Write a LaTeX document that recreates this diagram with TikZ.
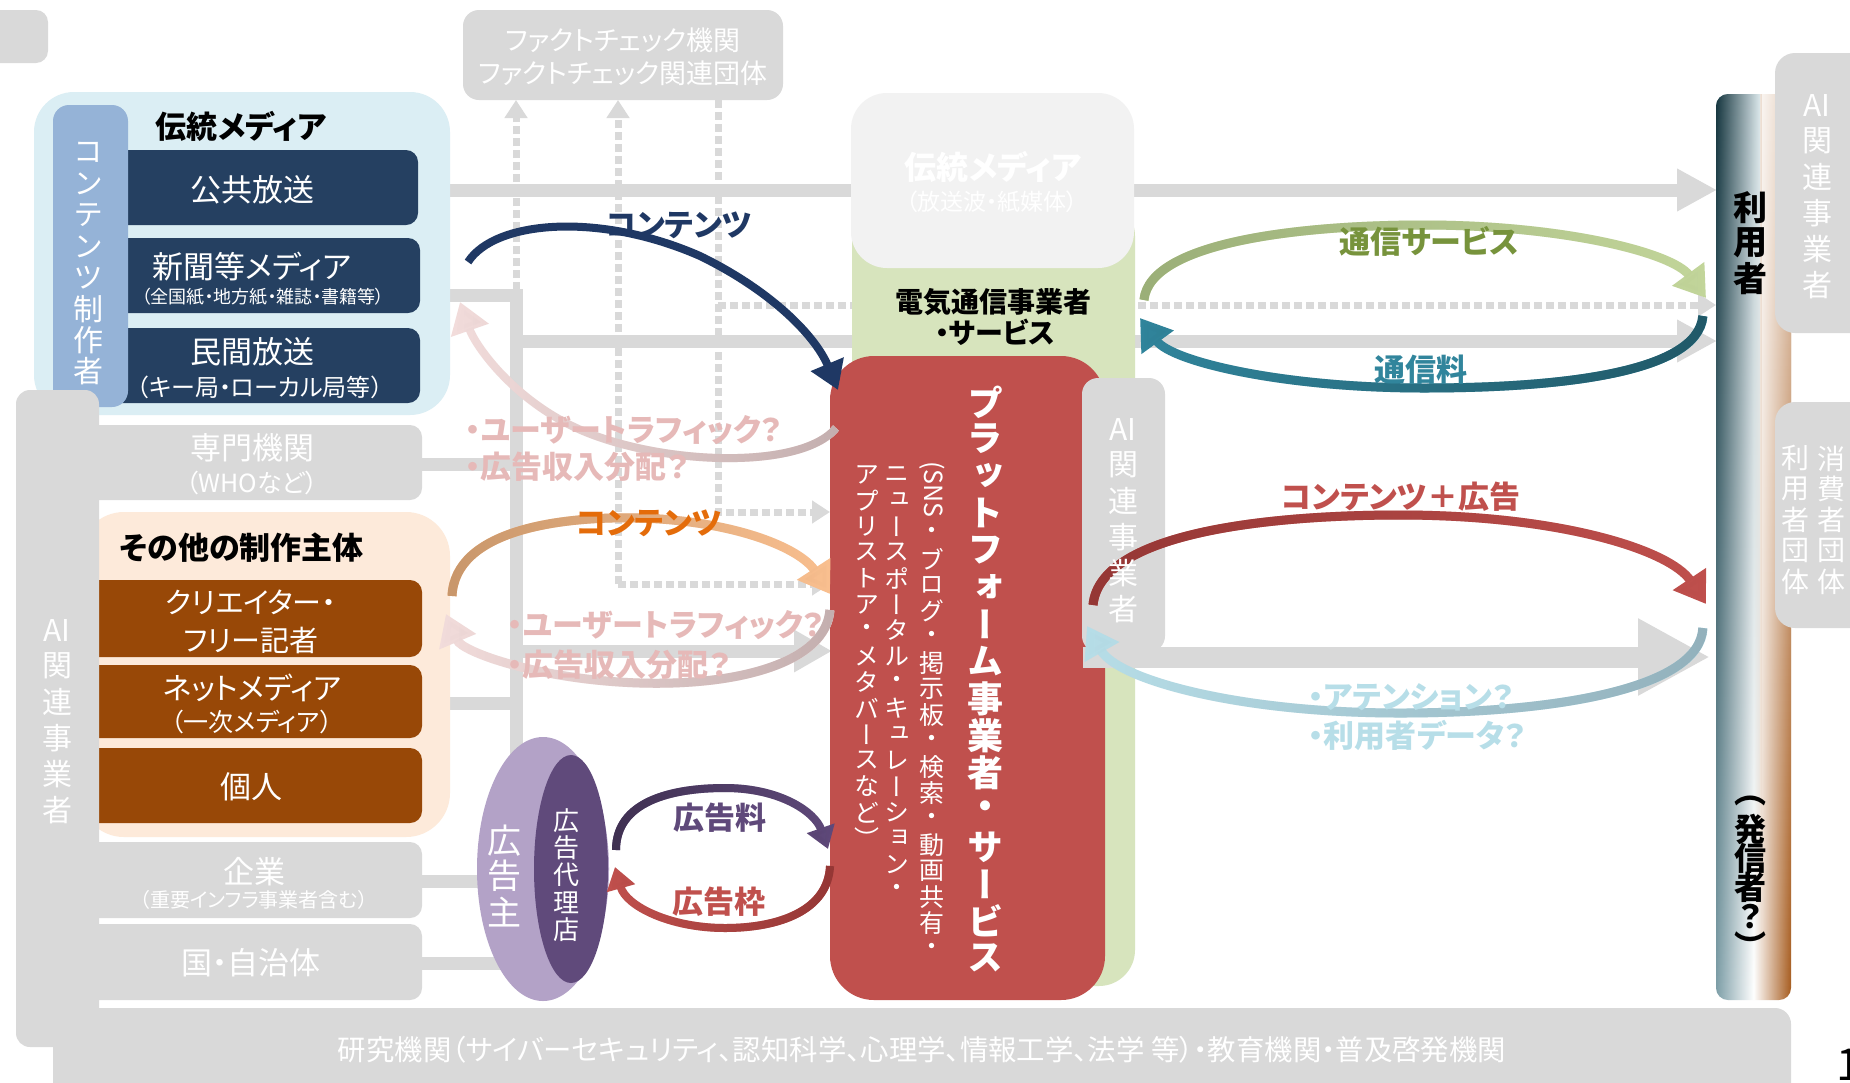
\documentclass[tikz,border=0pt]{standalone}
\usepackage{fontspec}
\usepackage{graphicx}
\usetikzlibrary{arrows.meta,fadings}
\setmainfont{Noto Sans CJK JP}[RawFeature=+palt]
\newfontfamily\jpv{Noto Sans CJK JP}[RawFeature=+vert]

\definecolor{lgray}{HTML}{D9D9D9}
\definecolor{lgrayb}{HTML}{F2F2F2}
\definecolor{bluegrp}{HTML}{DBEEF4}
\definecolor{cbar}{HTML}{95B3D7}
\definecolor{navy}{HTML}{254061}
\definecolor{peach}{HTML}{FDEADA}
\definecolor{brownbox}{HTML}{984807}
\definecolor{telgreen}{HTML}{D7E4BD}
\definecolor{pfred}{HTML}{C0504D}
\definecolor{purL}{HTML}{B3A2C7}
\definecolor{purD}{HTML}{604A7B}
\definecolor{navyA}{HTML}{1F3864}
\definecolor{pinkT}{HTML}{C4AFAF}
\definecolor{pinkH}{HTML}{F2DCDB}
\definecolor{orT}{HTML}{C9976B}
\definecolor{orH}{HTML}{FAC090}
\definecolor{grT}{HTML}{9BAF78}
\definecolor{grH}{HTML}{C3D69B}
\definecolor{tlT}{HTML}{215968}
\definecolor{tlH}{HTML}{31859C}
\definecolor{rdT}{HTML}{953735}
\definecolor{rdH}{HTML}{C0504D}
\definecolor{lbT}{HTML}{93B1BC}
\definecolor{lbH}{HTML}{B7DEE8}
\definecolor{puT}{HTML}{403152}
\definecolor{puH}{HTML}{5F497A}
\definecolor{lblPink}{HTML}{E6B9B8}
\definecolor{lblOr}{HTML}{E46C0A}
\definecolor{lblGr}{HTML}{77933C}
\definecolor{ubL}{HTML}{7FA0A9}
\definecolor{ubR}{HTML}{A65B1E}
\definecolor{ubDark}{HTML}{16363F}
\definecolor{ubMid}{HTML}{DCE8EC}

\newcommand\fs[1]{\fontsize{#1}{#1}\selectfont}

\makeatletter
\def\vt@end{\vt@end}
\def\vtpitch{1.05em}
\newcommand\vc[1]{\vbox to \vtpitch{\vss\hbox to 1em{\hss#1\hss}\vss}}
\def\vt@loop#1{\ifx\vt@end#1\else\vc{#1}\expandafter\vt@loop\fi}
\newcommand\vtbody[1]{\vt@loop#1\vt@end}
\newcommand\vt[2][1.05em]{\vbox{\offinterlineskip\def\vtpitch{#1}\vtbody{#2}}}
\makeatother

\tikzfading[name=fadeR, left color=transparent!0, right color=transparent!100]
\tikzfading[name=fadeL, left color=transparent!100, right color=transparent!0]
\tikzfading[name=fadeTop, top color=transparent!0, bottom color=transparent!100]

\tikzset{
  gline/.style={draw=lgray, line width=6.5pt},
  dline/.style={draw=lgray, line width=3.5pt, dash pattern=on 4pt off 2pt},
  bigtip/.style={-{Triangle[length=20pt,width=20pt]}},
  dtip/.style={-{Triangle[length=9pt,width=11pt]}},
  bigarr/.style={-{Triangle[length=15pt,width=19pt]}},
  smallarr/.style={-{Triangle[length=11pt,width=14pt]}},
  wt/.style={text=white, inner sep=0pt},
  bt/.style={text=black, inner sep=0pt},
  lab/.style={inner sep=0pt, font=\fs{15.5}\bfseries},
}

\newcommand\garrow[6][bigarr]{%
  \draw[#3, line width=#5, #1] #6;
  \draw[#2, line width=#5, #1, path fading=#4] #6;}

\begin{document}
\begin{tikzpicture}[x=0.5pt,y=-0.5pt]
\useasboundingbox (0,0) rectangle (1850,1082);
\fill[white] (0,0) rectangle (1850,1082);

% stub top-left
\fill[lgray, rounded corners=6pt] (-30,10) rectangle (48,63);

% ---------- gray connector lines ----------
\coordinate (trunkTop) at (516,295);
\draw[gline, bigtip] (440,190) -- (1717,190);
\draw[gline, line join=miter] (440,295) -| (516,963) -- (420,963);
\draw[gline, bigtip] (516,341) -- (1717,341);
\draw[gline] (420,464) -- (516,464);
\draw[gline] (440,703) -- (516,703);
\draw[gline] (420,881) -- (516,881);
\draw[gline, -{Triangle[length=19pt,width=20pt]}] (516,651) -- (832,651);

% dotted lines
\draw[dline, dtip] (516,290) -- (516,100);
\draw[dline, dtip] (618,584) -- (618,100);
\draw[dline, dtip] (618,584) -- (830,584);
\draw[dline, dtip] (718,100) |- (830,512);
\draw[dline, dtip] (718,305) -- (1716,305);

% ---------- left groups ----------
\fill[bluegrp, rounded corners=20pt] (34,92) rectangle (450,415);
\fill[navy, rounded corners=6pt] (110,150) rectangle (418,225);
\fill[navy, rounded corners=6pt] (110,238) rectangle (420,313);
\fill[navy, rounded corners=6pt] (110,328) rectangle (420,403);
\fill[cbar, rounded corners=8pt] (53,105) rectangle (128,407);
\node[wt, font=\fs{15}\jpv] (contentsMaker) at (88,262) {\vt[1.04em]{コンテンツ制作者}};

\fill[lgray, rounded corners=6pt] (80,425) rectangle (422,500);
\fill[peach, rounded corners=22pt] (80,512) rectangle (450,837);
\fill[brownbox, rounded corners=6pt] (80,580) rectangle (422,657);
\fill[brownbox, rounded corners=6pt] (80,665) rectangle (422,738);
\fill[brownbox, rounded corners=6pt] (80,748) rectangle (422,823);
\fill[lgray, rounded corners=6pt] (80,842) rectangle (422,918);
\fill[lgray, rounded corners=6pt] (80,924) rectangle (422,1000);

% left AI bar and bottom bar
\fill[lgray, rounded corners=7pt] (16,390) rectangle (99,1047);
\fill[lgray, rounded corners=8pt] (53,1008) rectangle (1791,1110);
\node[wt, font=\fs{15}\jpv] (aiLeft) at (57,720) {\vt[1.2em]{{AI}関連事業者}};

% fact check box
\fill[lgray, rounded corners=8pt] (463,10) rectangle (783,100);

% ---------- center ----------
\fill[telgreen, rounded corners=18pt] (852,200) rectangle (1135,986);
\fill[lgrayb, rounded corners=18pt] (851,93) rectangle (1134,268);
\fill[pfred, rounded corners=22pt] (830,356) rectangle (1105,1000);
\fill[lgray, rounded corners=8pt] (1082,378) rectangle (1165,652);
\draw[draw=lgray, line width=10.5pt, -{Triangle[length=36pt,width=36pt]}] (1083,657) -- (1710,657);

% ad ovals
\fill[purL] (543,869) ellipse [x radius=66, y radius=132];
\fill[purD] (571,869) ellipse [x radius=37, y radius=114];

% ---------- right ----------
\begin{scope}
\clip[rounded corners=6pt] (1716,94) rectangle (1791,1000);
\shade[left color=ubL, right color=ubR, middle color=white] (1716,94) rectangle (1791,1000);
\shade[left color=ubDark, right color=ubMid, path fading=fadeTop] (1716,94) rectangle (1760,1000);
\fill[white, path fading=fadeTop, opacity=0.7] (1762,94) rectangle (1791,1000);
\end{scope}
\fill[lgray, rounded corners=10pt] (1775,53) rectangle (1880,333);
\fill[lgray, rounded corners=10pt] (1775,402) rectangle (1880,628);

% ---------- curved arrows ----------
\draw[navyA, line width=4pt, -{Triangle[length=14pt,width=17pt]}] (468,262) .. controls (495,220) and (600,212) .. (700,256) .. controls (770,290) and (815,335) .. (838,390);
\garrow{pinkT}{pinkH}{fadeL}{4pt}{(836,428) .. controls (800,472) and (650,465) .. (570,425) .. controls (510,395) and (475,345) .. (460,302)}
\garrow{orT}{orH}{fadeR}{4.5pt}{(452,596) .. controls (455,530) and (560,516) .. (640,518) .. controls (735,521) and (800,548) .. (830,594)}
\garrow{pinkT}{pinkH}{fadeL}{4.5pt}{(830,610) .. controls (826,662) and (740,686) .. (640,683) .. controls (540,680) and (462,652) .. (446,614)}
\garrow{grT}{grH}{fadeR}{4.5pt}{(1144,300) .. controls (1150,240) and (1310,225) .. (1424,225) .. controls (1560,225) and (1672,252) .. (1706,298)}
\garrow{tlT}{tlH}{fadeL}{4.5pt}{(1703,316) .. controls (1698,375) and (1550,388) .. (1424,388) .. controls (1285,388) and (1172,362) .. (1140,318)}
\garrow{rdT}{rdH}{fadeR}{4.5pt}{(1093,605) .. controls (1100,530) and (1280,515) .. (1400,515) .. controls (1560,515) and (1670,550) .. (1706,604)}
\garrow{lbT}{lbH}{fadeL}{4.5pt}{(1703,628) .. controls (1700,690) and (1550,713) .. (1400,713) .. controls (1240,713) and (1118,680) .. (1087,626)}
\garrow[smallarr]{puT}{puH}{fadeR}{4pt}{(616,850) .. controls (616,802) and (670,788) .. (725,788) .. controls (780,788) and (815,812) .. (828,849)}
\garrow[smallarr]{rdT}{rdH}{fadeL}{4pt}{(830,866) .. controls (828,910) and (780,928) .. (725,928) .. controls (670,928) and (626,906) .. (615,867)}

% ---------- texts: left ----------
\node[bt, font=\fs{15.5}\bfseries] (tradLbl) at (241,126) {伝統メディア};
\node[wt, font=\fs{15.5}] (koukyo) at (252,190) {公共放送};
\node[wt, font=\fs{15.5}] (shinbun) at (252,267) {新聞等メディア};
\node[wt, font=\fs{9}] (shinbunSub) at (263,297) {（全国紙・地方紙・雑誌・書籍等）};
\node[wt, font=\fs{15.5}] (minkan) at (252,352) {民間放送};
\node[wt, font=\fs{12}] (minkanSub) at (260,387) {（キー局・ローカル局等）};
\node[wt, font=\fs{15.5}] (senmon) at (252,448) {専門機関};
\node[wt, font=\fs{12.5}] (senmonSub) at (252,483) {（WHOなど）};
\node[bt, font=\fs{15.5}\bfseries] (otherLbl) at (242,548) {その他の制作主体};
\node[wt, font=\fs{14.5}] (creator1) at (251,602) {クリエイター・};
\node[wt, font=\fs{14.5}] (creator2) at (251,640) {フリー記者};
\node[wt, font=\fs{15}] (netmedia) at (252,688) {ネットメディア};
\node[wt, font=\fs{12.5}] (netmediaSub) at (252,722) {（一次メディア）};
\node[wt, font=\fs{15.5}] (kojin) at (251,787) {個人};
\node[wt, font=\fs{15.5}] (kigyo) at (254,872) {企業};
\node[wt, font=\fs{10}] (kigyoSub) at (254,900) {（重要インフラ事業者含む）};
\node[wt, font=\fs{15.5}] (kuni) at (251,963) {国・自治体};

% fact check
\node[wt, font=\fs{13.5}] (fact1) at (623,40) {ファクトチェック機関};
\node[wt, font=\fs{13.5}] (fact2) at (623,73) {ファクトチェック関連団体};

% center texts
\node[wt, font=\fs{16}\bfseries] (tradGray) at (993,167) {伝統メディア};
\node[wt, font=\fs{11.5}] (tradGraySub) at (992,202) {（放送波・紙媒体）};
\node[bt, font=\fs{14}\bfseries] (telco1) at (993,302) {電気通信事業者};
\node[bt, font=\fs{14}\bfseries] (telco2) at (995,332) {・サービス};
\node[wt, font=\fs{18}\jpv\bfseries] (pfTitle) at (985,680) {\vt[1.03em]{プラットフォーム事業者・サービス}};
\node[wt, font=\fs{12.5}\jpv, anchor=north] (pfSub1) at (932,461) {\vbox{\offinterlineskip\def\vtpitch{1.04em}\hbox to 1em{\hss\rotatebox{-90}{(SNS}\hss}\kern0.1em\vtbody{・ブログ・掲示板・検索・動画共有・}}};
\node[wt, font=\fs{12.5}\jpv, anchor=north] (pfSub2) at (897,461) {\vt[1.04em]{ニュースポータル・キュレーション・}};
\node[wt, font=\fs{12.5}\jpv, anchor=north] (pfSub3) at (867,461) {\vt[1.04em]{アプリストア・メタバースなど）}};
\node[wt, font=\fs{15}\jpv] (aiCenter) at (1123,519) {\vt[1.2em]{{AI}関連事業者}};
\node[wt, font=\fs{17}\jpv] (adOwner) at (504,876) {\vt[1.05em]{広告主}};
\node[wt, font=\fs{13}\jpv] (adAgency) at (566,875) {\vt[1.05em]{広告代理店}};

% right texts
\node[bt, font=\fs{17}\jpv\bfseries] (user) at (1750,243) {\vt[1.05em]{利用者}};
\node[bt, font=\fs{16}\jpv\bfseries] (sender) at (1750,873) {\vt[0.9em]{（発信者？）}};
\node[wt, font=\fs{15}\jpv] (aiRight) at (1817,195) {\vt[1.2em]{{AI}関連事業者}};
\node[wt, font=\fs{14}\jpv] (consumer) at (1831,520) {\vt[1.1em]{消費者団体}};
\node[wt, font=\fs{14}\jpv] (userGroup) at (1795,520) {\vt[1.1em]{利用者団体}};

% arrow labels
\node[lab, text=navyA] (lblContents1) at (679,225) {コンテンツ};
\node[lab, text=lblPink, anchor=west] (lblTraffic1) at (465,430) {・ユーザートラフィック？};
\node[lab, text=lblPink, anchor=west] (lblRevenue1) at (465,467) {・広告収入分配？};
\node[lab, text=lblOr] (lblContents2) at (649,523) {コンテンツ};
\node[lab, text=lblPink, anchor=west] (lblTraffic2) at (507,625) {・ユーザートラフィック？};
\node[lab, text=lblPink, anchor=west] (lblRevenue2) at (507,665) {・広告収入分配？};
\node[lab, text=lblGr] (lblTelSvc) at (1429,241) {通信サービス};
\node[lab, text=tlH] (lblTelFee) at (1421,370) {通信料};
\node[lab, text=rdH] (lblContAd) at (1401,497) {コンテンツ＋広告};
\node[lab, text=lbH, anchor=west] (lblAttention) at (1308,697) {・アテンション？};
\node[lab, text=lbH, anchor=west] (lblUserData) at (1308,735) {・利用者データ？};
\node[lab, text=puH] (lblAdFee) at (720,818) {広告料};
\node[lab, text=rdH] (lblAdSlot) at (719,902) {広告枠};

% bottom bar text
\node[wt, font=\fs{14.2}] (research) at (922,1050) {研究機関（サイバーセキュリティ、認知科学、心理学、情報工学、法学 等）・教育機関・普及啓発機関};

% page number (cut)
\node[bt, font=\fs{22}, anchor=base west] (pageNo) at (1836,1080) {1};
\end{tikzpicture}
\end{document}
